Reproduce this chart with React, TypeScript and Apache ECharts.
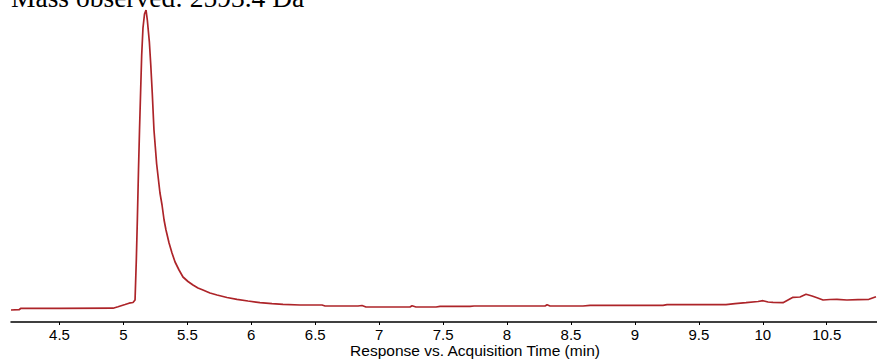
import React, { useEffect, useRef } from "react";
import * as echarts from "echarts";

const titleText = "Mass observed: 2593.4 Da";
const axisName = "Response vs. Acquisition Time (min)";

// acquisition time (min)
const times = [
  4.121, 4.184, 4.199, 4.504, 4.919, 4.958, 5.013, 5.044, 5.075, 5.091,
  5.101, 5.109, 5.118, 5.126, 5.135, 5.143, 5.153, 5.165, 5.177, 5.187,
  5.203, 5.214, 5.226, 5.239, 5.26, 5.286, 5.302, 5.318, 5.333, 5.357,
  5.38, 5.404, 5.435, 5.466, 5.505, 5.544, 5.583, 5.622, 5.677, 5.732,
  5.81, 5.888, 5.974, 6.068, 6.162, 6.248, 6.381, 6.553, 6.577, 6.835,
  6.866, 6.897, 7.241, 7.257, 7.288, 7.445, 7.476, 7.711, 7.742, 8.297,
  8.313, 8.336, 8.594, 8.649, 9.22, 9.251, 9.712, 9.783, 9.869, 9.963,
  10.002, 10.041, 10.08, 10.158, 10.197, 10.236, 10.291, 10.338, 10.385, 10.424,
  10.471, 10.526, 10.58, 10.658, 10.744, 10.83, 10.885,
];

// response (arbitrary units)
const responses = [
  12, 12.3, 13.7, 13.7, 13.8, 15.3, 17.5, 18.8, 19.5, 22,
  62, 102, 152, 192, 232, 267, 294, 308, 312, 302,
  280, 257, 228, 192, 158, 129, 117, 102, 92, 79,
  69, 60, 52, 45, 40.5, 37, 34, 32, 29, 27,
  24.5, 22.7, 21, 19.3, 18.4, 17.7, 17, 17, 16, 16,
  16.5, 15, 15, 16.2, 15, 15, 15.7, 15.7, 16, 16,
  17.2, 16, 16, 16.7, 16.7, 17.3, 17.3, 18.3, 19.3, 20.5,
  21.3, 20, 19.7, 19.3, 22, 24.7, 25, 27.7, 26, 24.3,
  22, 22.5, 22.7, 22, 22.4, 22.7, 25.3,
];

const tickValues = [4.5, 5, 5.5, 6, 6.5, 7, 7.5, 8, 8.5, 9, 9.5, 10, 10.5];

const xMin = 4.121;
const xMax = 10.893;

export default function App() {
  const ref = useRef<HTMLDivElement>(null);
  useEffect(() => {
    if (!ref.current) return;
    const chart = echarts.init(ref.current, undefined, { renderer: "svg" });
    const data = times.map((t, i) => [t, responses[i]]);
    chart.setOption({
      animation: false,
      backgroundColor: "#ffffff",
      title: {
        text: titleText,
        left: 11,
        top: -17,
        padding: 0,
        textStyle: {
          fontFamily: "'Liberation Serif', 'Times New Roman', serif",
          fontSize: 27.5,
          fontWeight: "normal",
          color: "#000000",
        },
      },
      grid: {
        left: 11,
        right: 0,
        top: 10,
        bottom: 38,
        containLabel: false,
        outerBoundsMode: "none",
      },
      xAxis: {
        type: "value",
        min: xMin,
        max: xMax,
        name: axisName,
        nameLocation: "middle",
        nameGap: 20,
        nameMoveOverlap: false,
        nameTextStyle: {
          fontFamily: "'Liberation Sans', Arial, sans-serif",
          fontSize: 15.5,
          color: "#000000",
          padding: [0, 0, 0, 62],
        },
        axisLine: { show: true, lineStyle: { color: "#000000", width: 1.5 } },
        axisTick: {
          show: true,
          length: 3,
          inside: false,
          customValues: tickValues,
          lineStyle: { color: "#000000", width: 1 },
        },
        axisLabel: {
          customValues: tickValues,
          margin: 5,
          fontFamily: "'Liberation Sans', Arial, sans-serif",
          fontSize: 15,
          color: "#000000",
        },
        splitLine: { show: false },
      },
      yAxis: {
        type: "value",
        min: 0,
        max: 312,
        show: false,
        splitLine: { show: false },
      },
      series: [
        {
          type: "line",
          data,
          symbol: "none",
          smooth: false,
          lineStyle: { color: "#ad2429", width: 1.7 },
        },
      ],
    });
    return () => chart.dispose();
  }, []);
  return (
    <div
      ref={ref}
      style={{ position: "fixed", left: 0, top: 0, width: 877, height: 360, background: "#fff" }}
    />
  );
}
